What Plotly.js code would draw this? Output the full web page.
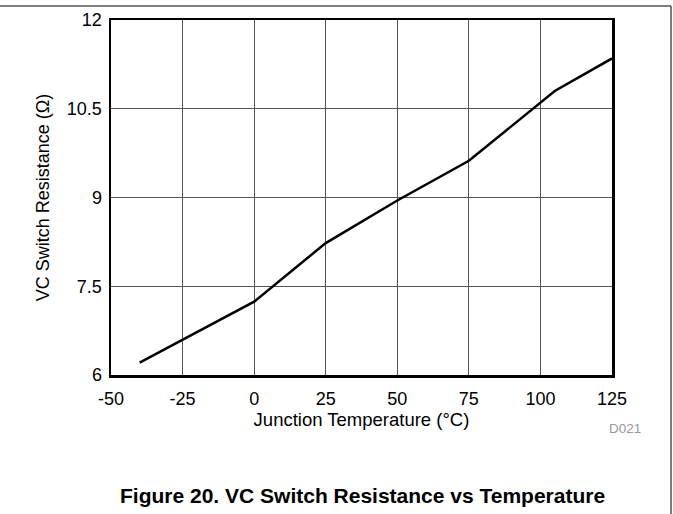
<!DOCTYPE html>
<html>
<head>
<meta charset="utf-8">
<script src="https://cdn.plot.ly/plotly-3.0.1.min.js"></script>
<style>html,body{margin:0;padding:0;background:#fff;}#chart{width:673px;height:514px;}</style>
</head>
<body>
<div id="chart"></div>
<script>
const temperatureC = [-40, 0, 25, 50, 75, 105, 125];
const resistanceOhm = [6.21, 7.24, 8.23, 8.95, 9.62, 10.8, 11.35];
const xTicks = [-50, -25, 0, 25, 50, 75, 100, 125];
const yTicks = [6, 7.5, 9, 10.5, 12];
const yTickLabels = ['6', '7.5', '9', '10.5', '12'];

const font = 'Liberation Sans, Arial, sans-serif';

const trace = {
  x: temperatureC,
  y: resistanceOhm,
  type: 'scatter',
  mode: 'lines',
  line: {color: '#000', width: 2.5},
  hoverinfo: 'skip'
};

const layout = {
  width: 673,
  height: 514,
  margin: {l: 111, r: 61, t: 20, b: 139},
  paper_bgcolor: '#fff',
  plot_bgcolor: '#fff',
  showlegend: false,
  font: {family: font, color: '#000', size: 18},
  xaxis: {
    range: [-50, 125],
    tickvals: xTicks,
    ticktext: xTicks.map(String),
    showgrid: true,
    gridcolor: '#555',
    gridwidth: 1,
    zeroline: false,
    showline: true,
    linecolor: '#000',
    linewidth: 2.5,
    mirror: true,
    ticks: 'outside',
    ticklen: 6,
    tickcolor: 'rgba(0,0,0,0)',
    tickfont: {family: font, size: 18, color: '#000'},
    title: {text: 'Junction Temperature (°C)', font: {family: font, size: 18.5, color: '#000'}, standoff: 0},
    fixedrange: true
  },
  yaxis: {
    range: [6, 12],
    tickvals: yTicks,
    ticktext: yTickLabels,
    showgrid: true,
    gridcolor: '#555',
    gridwidth: 1,
    zeroline: false,
    showline: true,
    linecolor: '#000',
    linewidth: 2.5,
    mirror: true,
    ticks: 'outside',
    ticklen: 3,
    tickcolor: 'rgba(0,0,0,0)',
    tickfont: {family: font, size: 18, color: '#000'},
    title: {text: 'VC Switch Resistance (Ω)', font: {family: font, size: 18, color: '#000'}, standoff: 13},
    fixedrange: true
  },
  shapes: [
    {type: 'line', xref: 'paper', yref: 'paper', x0: -0.23, x1: 1.1178, y0: 1.0394, y1: 1.0394, line: {color: '#000', width: 1}},
    {type: 'line', xref: 'paper', yref: 'paper', x0: 1.1178, x1: 1.1178, y0: 1.0394, y1: -0.4, line: {color: '#000', width: 1}}
  ],
  annotations: [
    {text: 'D021', xref: 'paper', yref: 'paper', x: (624.5 - 111) / 501, y: (375 - 428) / 355, showarrow: false, xanchor: 'center', yanchor: 'middle', font: {family: font, size: 13.5, color: '#999'}},
    {text: '<b>Figure 20. VC Switch Resistance vs Temperature</b>', xref: 'paper', yref: 'paper', x: (362.5 - 111) / 501, y: (375 - 495) / 355, showarrow: false, xanchor: 'center', yanchor: 'middle', font: {family: font, size: 21, color: '#000'}}
  ]
};

Plotly.newPlot('chart', [trace], layout, {displayModeBar: false, staticPlot: true});
</script>
</body>
</html>
